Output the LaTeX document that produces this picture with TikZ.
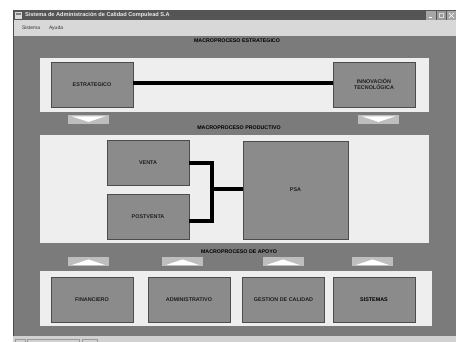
\documentclass[tikz,border=0pt]{standalone}
\usepackage{fontspec}
\setmainfont{Liberation Sans}
\begin{document}
\begin{tikzpicture}[x=1pt,y=-1pt,
  every node/.style={inner sep=0pt,outer sep=0pt},
  panel/.style={fill=panelgray,draw=none},
  procbox/.style={draw=boxborder,line width=0.9pt,fill=boxgray,minimum width=82pt,minimum height=45pt,
    font=\fontsize{5.4}{6.2}\selectfont\bfseries,text=textdark,align=center},
  heading/.style={font=\fontsize{5.3}{6}\selectfont\bfseries,text=black},
  btn/.style={fill=btngray,minimum width=41pt,minimum height=9pt},
  conn/.style={line width=4.5pt,black,line join=miter},
  tri/.style={fill=white,draw=none}]
\definecolor{bggray}{HTML}{7B7B7B}
\definecolor{panelgray}{HTML}{EEEEEE}
\definecolor{boxgray}{HTML}{8B8B8B}
\definecolor{boxborder}{HTML}{4C4C4C}
\definecolor{textdark}{HTML}{1E1E1E}
\definecolor{btngray}{HTML}{BEBEBE}
\definecolor{titlegray}{HTML}{555555}
\definecolor{menugray}{HTML}{D8D8D8}
\useasboundingbox (0,0) rectangle (456,342);
\fill[white] (0,0) rectangle (456,342);
% window
\fill[bggray] (13,36) rectangle (456,342);
\fill[titlegray] (13,10) rectangle (456,20.5);
\fill[menugray] (13,20.5) rectangle (456,36);
\draw[black!70,line width=0.8pt] (13.4,10) -- (13.4,342);
% title bar icon and text
\fill[white!85!black] (15,12) rectangle (22,19);
\fill[gray] (16,13) rectangle (21,15);
\node[anchor=west,font=\fontsize{5.6}{6}\selectfont\bfseries,text=white!92!black] (title) at (25,15.3) {Sistema de Administración de Calidad Compulead S.A};
% window buttons
\fill[white!65!black] (426,11) rectangle (436,20);
\fill[white!60!black] (437,11) rectangle (446,20);
\fill[white!65!black] (447,11) rectangle (456,20);
\draw[white,line width=0.8pt] (428.5,17.5) -- (432,17.5);
\draw[white!85!black,line width=0.5pt] (439.5,13.5) rectangle (443.5,17.5);
\draw[white,line width=0.7pt] (449,13) -- (454,18) (449,18) -- (454,13);
% menu
\node[anchor=west,font=\fontsize{5}{6}\selectfont,text=black!80] (m1) at (22,28) {Sistema};
\node[anchor=west,font=\fontsize{5}{6}\selectfont,text=black!80] (m2) at (49,28) {Ayuda};
% status bar
\fill[white!82!black] (13,336) rectangle (456,342);
\draw[white!60!black,line width=0.5pt] (15,339) rectangle (25,343) (27,339) rectangle (79,343) (82,339) rectangle (97,343);

% strategic
\node[heading] (hE) at (237,41) {MACROPROCESO ESTRATEGICO};
\fill[panel] (40,58) rectangle (429,112);
\node[procbox] (estr) at (92,84.5) {ESTRATEGICO};
\node[procbox] (innov) at (374,84.5) {INNOVACIÓN\\TECNOLÓGICA};
\draw[conn] ([yshift=1.5pt]estr.east) -- ([yshift=1.5pt]innov.west);
\node[btn] (d1) at (88.5,119.5) {};
\node[btn] (d2) at (378.5,119.5) {};
\foreach \b in {d1,d2}{
  \fill[tri] ([xshift=4pt,yshift=-1.5pt]\b.north west) -- ([xshift=-4pt,yshift=-1.5pt]\b.north east) -- ([yshift=2pt]\b.south) -- cycle;
}

% productive
\node[heading] (hP) at (239,127.5) {MACROPROCESO PRODUCTIVO};
\fill[panel] (40,135) rectangle (429,243);
\node[procbox] (venta) at (148,163) {VENTA};
\node[procbox] (post) at (148,216.5) {POSTVENTA};
\node[procbox,minimum width=105pt,minimum height=98pt] (psa) at (295.5,190) {PSA};
\coordinate (jn) at (212,189);
\draw[conn] (venta.east) -| (jn) |- ([yshift=-4.5pt]post.east);
\draw[conn] (jn) -- (psa.west |- jn);

% support
\node[heading] (hA) at (239,251.5) {MACROPROCESO DE APOYO};
\foreach \n/\x in {u1/88.5,u2/182.5,u3/283,u4/372.5}{
  \node[btn] (\n) at (\x,262) {};
  \fill[tri] ([xshift=4pt,yshift=1.5pt]\n.south west) -- ([xshift=-4pt,yshift=1.5pt]\n.south east) -- ([yshift=-2pt]\n.north) -- cycle;
}
\fill[panel] (40,271) rectangle (432,326);
\node[procbox] (fin) at (92,299.5) {FINANCIERO};
\node[procbox] (adm) at (189,299.5) {ADMINISTRATIVO};
\node[procbox] (gest) at (283.5,299.5) {GESTION DE CALIDAD};
\node[procbox,text=black] (sis) at (374,299.5) {SISTEMAS};
\end{tikzpicture}
\end{document}
